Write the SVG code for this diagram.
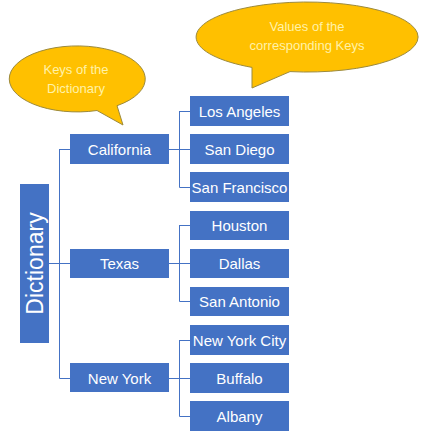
<svg xmlns="http://www.w3.org/2000/svg" width="423" height="446" viewBox="0 0 423 446">
<style>
.box{fill:#4472C4}
.lbl{font-family:"Liberation Sans",Arial,sans-serif;font-size:15px;fill:#FFFFFF;text-anchor:middle}
.conn{fill:none;stroke:#4472C4;stroke-width:1}
.callout{fill:#FFC000;stroke:#9C8A3C;stroke-width:1}
.ctext{font-family:"Liberation Sans",Arial,sans-serif;font-size:13px;fill:#FFF2A8;text-anchor:middle}
</style>
<rect width="423" height="446" fill="#FFFFFF"/>
<g id="connectors">
<path class="conn" d="M49 263.5H70M59.5 149V378.5M59.5 149.5H70M59.5 378.5H70"/>
<path class="conn" d="M169 149.5H190M179.5 111V187.5M179.5 111.5H190M179.5 187.5H190"/>
<path class="conn" d="M169 263.5H190M179.5 225V301.5M179.5 225.5H190M179.5 301.5H190"/>
<path class="conn" d="M169 378.5H190M179.5 340V416.5M179.5 340.5H190M179.5 416.5H190"/>
</g>
<g id="dictionary">
<rect class="box" x="20" y="184" width="29" height="159"/>
<text class="lbl" style="font-size:23px" transform="translate(42.5 263.5) rotate(-90)" x="0" y="0">Dictionary</text>
</g>
<g id="california"><rect class="box" x="70" y="134" width="99" height="30"/><text class="lbl" x="119.5" y="154.5">California</text></g>
<g id="texas"><rect class="box" x="70" y="249" width="99" height="29"/><text class="lbl" x="119.5" y="268.5">Texas</text></g>
<g id="newyork"><rect class="box" x="70" y="363" width="99" height="29"/><text class="lbl" x="119.5" y="383.5">New York</text></g>
<g id="losangeles"><rect class="box" x="190" y="96" width="99" height="30"/><text class="lbl" x="239.5" y="116.5">Los Angeles</text></g>
<g id="sandiego"><rect class="box" x="190" y="134" width="99" height="30"/><text class="lbl" x="239.5" y="154.5">San Diego</text></g>
<g id="sanfrancisco"><rect class="box" x="190" y="172" width="99" height="30"/><text class="lbl" x="239.5" y="192.5">San Francisco</text></g>
<g id="houston"><rect class="box" x="190" y="211" width="99" height="29"/><text class="lbl" x="239.5" y="230.5">Houston</text></g>
<g id="dallas"><rect class="box" x="190" y="249" width="99" height="29"/><text class="lbl" x="239.5" y="268.5">Dallas</text></g>
<g id="sanantonio"><rect class="box" x="190" y="287" width="99" height="29"/><text class="lbl" x="239.5" y="306.5">San Antonio</text></g>
<g id="newyorkcity"><rect class="box" x="190" y="325" width="99" height="30"/><text class="lbl" x="239.5" y="345.5">New York City</text></g>
<g id="buffalo"><rect class="box" x="190" y="363" width="99" height="30"/><text class="lbl" x="239.5" y="383.5">Buffalo</text></g>
<g id="albany"><rect class="box" x="190" y="401" width="99" height="30"/><text class="lbl" x="239.5" y="421.5">Albany</text></g>
<g id="callout-keys">
<path class="callout" d="M97 110.5A68 33 0 1 1 117 105.7L123 125Z"/>
<text class="ctext" x="76" y="74">Keys of the</text>
<text class="ctext" x="76" y="93">Dictionary</text>
</g>
<g id="callout-values">
<path class="callout" d="M252 67.4A111 35 0 1 1 290 71.6L252 88Z"/>
<text class="ctext" x="307" y="31">Values of the</text>
<text class="ctext" x="307" y="50">corresponding Keys</text>
</g>
</svg>
